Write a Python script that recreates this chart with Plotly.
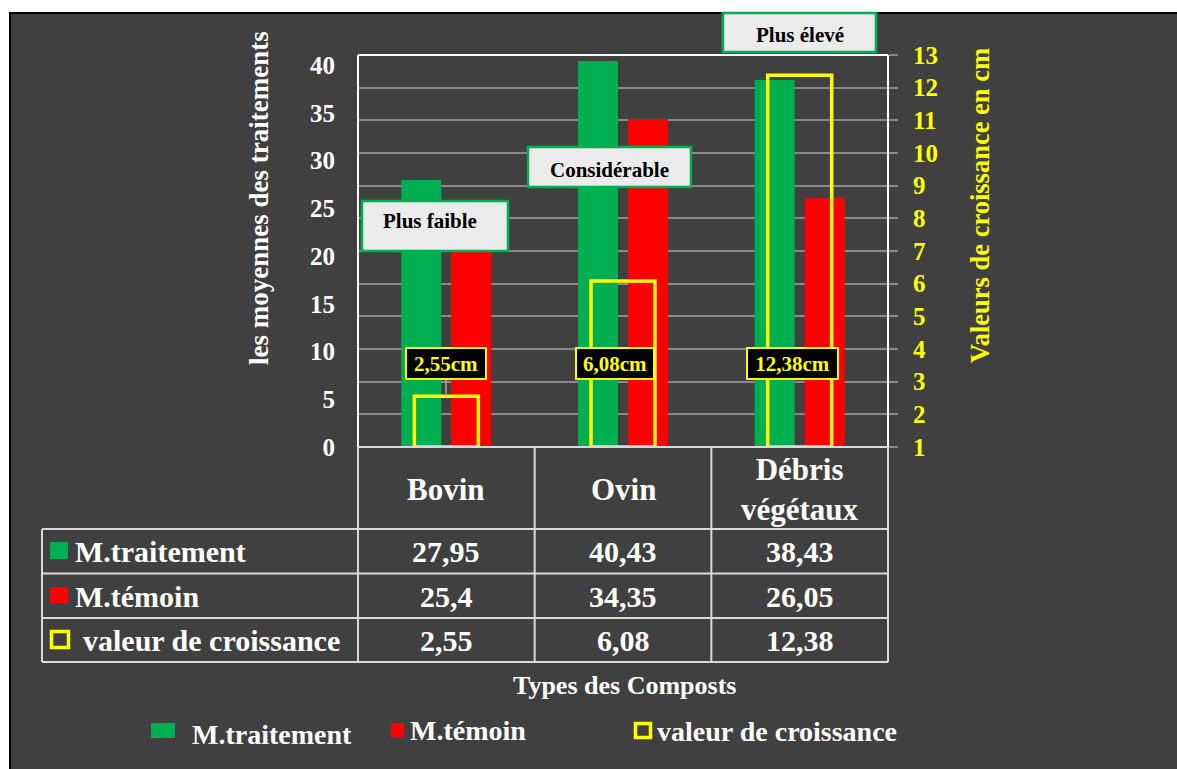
import plotly.graph_objects as go

# ---- data -------------------------------------------------------------
categories = ["Bovin", "Ovin", "Débris végétaux"]
category_labels = ["Bovin", "Ovin", "Débris<br>végétaux"]
m_traitement = [27.95, 40.43, 38.43]
m_temoin = [25.4, 34.35, 26.05]
croissance = [2.55, 6.08, 12.38]
left_ticks = [0, 5, 10, 15, 20, 25, 30, 35, 40]
right_ticks = list(range(1, 14))
series_names = ["M.traitement", "M.témoin", "valeur de croissance"]
callouts = ["Plus faible", "Considérable", "Plus élevé"]

# ---- styling ----------------------------------------------------------
W, H = 1177, 769
L, R, T, B = 358, 888, 55, 447          # plot area in pixels
PW, PH = R - L, B - T
GREEN, RED, YELLOW = "#00b050", "#ff0000", "#ffff00"
BG, GRID, TLINE = "#404040", "#8a8a8a", "#d9d9d9"
FONT = "Liberation Serif"


def px(x):
    return (x - L) / PW


def py(y):
    return (B - y) / PH


def fmt(v):
    return str(v).replace(".", ",")


def bold(size, color):
    return dict(family=FONT, size=size, color=color, weight="bold")


BAR_W = 40 / (PW / 3)
BAR_GAP = 10 / (PW / 3)
BOX_W = 64 / (PW / 3)
GROWTH_BASE = 1

fig = go.Figure()
fig.add_bar(x=categories, y=m_traitement, name=series_names[0],
            marker=dict(color=GREEN, line=dict(width=0)),
            width=BAR_W, offset=-(BAR_W + BAR_GAP / 2))
fig.add_bar(x=categories, y=m_temoin, name=series_names[1],
            marker=dict(color=RED, line=dict(width=0)),
            width=BAR_W, offset=BAR_GAP / 2)
fig.add_bar(x=categories, y=[v - GROWTH_BASE for v in croissance], base=GROWTH_BASE,
            name=series_names[2], yaxis="y2", width=BOX_W, offset=-BOX_W / 2,
            marker=dict(color="rgba(0,0,0,0)", line=dict(color=YELLOW, width=3.5)))

shapes = []
# dark panel behind everything
shapes.append(dict(type="rect", xref="paper", yref="paper", layer="below",
                   x0=px(10), x1=px(1190), y0=py(790), y1=py(13),
                   fillcolor=BG, line=dict(color="black", width=2)))


def hline(x0, x1, y, color=TLINE, w=2):
    shapes.append(dict(type="line", xref="paper", yref="paper",
                       x0=px(x0), x1=px(x1), y0=py(y), y1=py(y),
                       line=dict(color=color, width=w)))


def vline(x, y0, y1, color=TLINE, w=2):
    shapes.append(dict(type="line", xref="paper", yref="paper",
                       x0=px(x), x1=px(x), y0=py(y0), y1=py(y1),
                       line=dict(color=color, width=w)))


def rect(x0, y0, x1, y1, fill, line_color, lw):
    shapes.append(dict(type="rect", xref="paper", yref="paper",
                       x0=px(x0), x1=px(x1), y0=py(y1), y1=py(y0),
                       fillcolor=fill, line=dict(color=line_color, width=lw)))


annotations = []


def note(text, x, y, font, xref="paper", xanchor="center", **kw):
    annotations.append(dict(text=text, xref=xref, yref="paper", x=x, y=py(y),
                            xanchor=xanchor, yanchor="middle", showarrow=False,
                            font=font, **kw))


# plot frame
vline(L, T, B, "white", 2)
vline(R, T, B, "white", 2)
hline(L, R, T, "white", 2)

# data table grid
col_edges = [L + i * PW / 3 for i in range(4)]
row_edges = [529, 573.5, 618, 662]
hline(L, R, B)
for y in row_edges:
    hline(42, R, y)
vline(42, row_edges[0], row_edges[-1])
for x in col_edges:
    vline(x, B, row_edges[-1])

# axis titles
note("les moyennes des traitements", px(259), 198, bold(27, "white"), textangle=-90)
note("Valeurs de croissance en cm", px(980), 206, bold(26.5, YELLOW), textangle=-90)
note("Types des Composts", px(624), 685, bold(26, "white"))

# callout boxes
callout_boxes = [(362, 201, 508, 251), (528, 147, 691, 187), (723, 13, 876, 52)]
callout_text_pos = [(430, 221), (609, 170), (800, 35)]
for label, (x0, y0, x1, y1), (tx, ty) in zip(callouts, callout_boxes, callout_text_pos):
    rect(x0, y0, x1, y1, "#ebebeb", GREEN, 2.5)
    note(label, px(tx), ty, bold(21, "black"))

# growth value labels
label_widths = [78, 76, 89]
label_shift = [0, -8, -7]
for cat, v, w, dx in zip(categories, croissance, label_widths, label_shift):
    note(fmt(v) + "cm", cat, 363.5, bold(21, YELLOW), xref="x", xshift=dx,
         bgcolor="black", bordercolor=YELLOW, borderwidth=2, borderpad=0,
         width=w, height=29)
vline(446, 380, 396, "#a6a6a6", 1.5)

# table header
for cat, lab in zip(categories, category_labels):
    note(lab, cat, 489, bold(31, "white"), xref="x")

# table rows
row_centers = [551, 596, 640]
for vals, yc in zip([m_traitement, m_temoin, croissance], row_centers):
    for cat, v in zip(categories, vals):
        note(fmt(v), cat, yc, bold(30, "white"), xref="x")
rect(50, 542, 68, 559, GREEN, GREEN, 0)
rect(50, 587, 68, 603, RED, RED, 0)
rect(51.5, 631.5, 68.5, 647.5, "rgba(0,0,0,0)", YELLOW, 3.5)
for name, yc, x0 in zip(series_names, row_centers, [73, 73, 81]):
    note(name, px(x0), yc, bold(30, "white"), xanchor="left")

# legend
rect(151, 723, 175, 738, GREEN, GREEN, 0)
rect(391, 723, 404, 737, RED, RED, 0)
rect(635.5, 723.5, 650.5, 737.5, "rgba(0,0,0,0)", YELLOW, 3.5)
for name, x0, yc in zip(series_names, [190, 408, 655], [734, 730, 731]):
    note(name, px(x0), yc, bold(28, "white"), xanchor="left")

fig.update_layout(
    width=W, height=H,
    margin=dict(l=L, r=W - R, t=T, b=H - B, autoexpand=False),
    paper_bgcolor="white", plot_bgcolor=BG,
    showlegend=False, barmode="group",
    xaxis=dict(range=[-0.5, 2.5], showticklabels=False, showgrid=False,
               zeroline=False, showline=False, ticks=""),
    yaxis=dict(range=[0, 41.05], tickvals=left_ticks, showgrid=False,
               zeroline=False, showline=False, ticks="",
               tickfont=bold(25, "white"), ticklabelstandoff=22),
    yaxis2=dict(overlaying="y", side="right", range=[1, 13], tickvals=right_ticks,
                showgrid=True, gridcolor=GRID, gridwidth=1.5, zeroline=False,
                showline=False, ticks="outside", ticklen=9, tickcolor=GRID,
                tickwidth=1.5, tickfont=bold(25, YELLOW), ticklabelstandoff=10),
    shapes=shapes,
    annotations=annotations,
)

fig.write_html("out.html")
